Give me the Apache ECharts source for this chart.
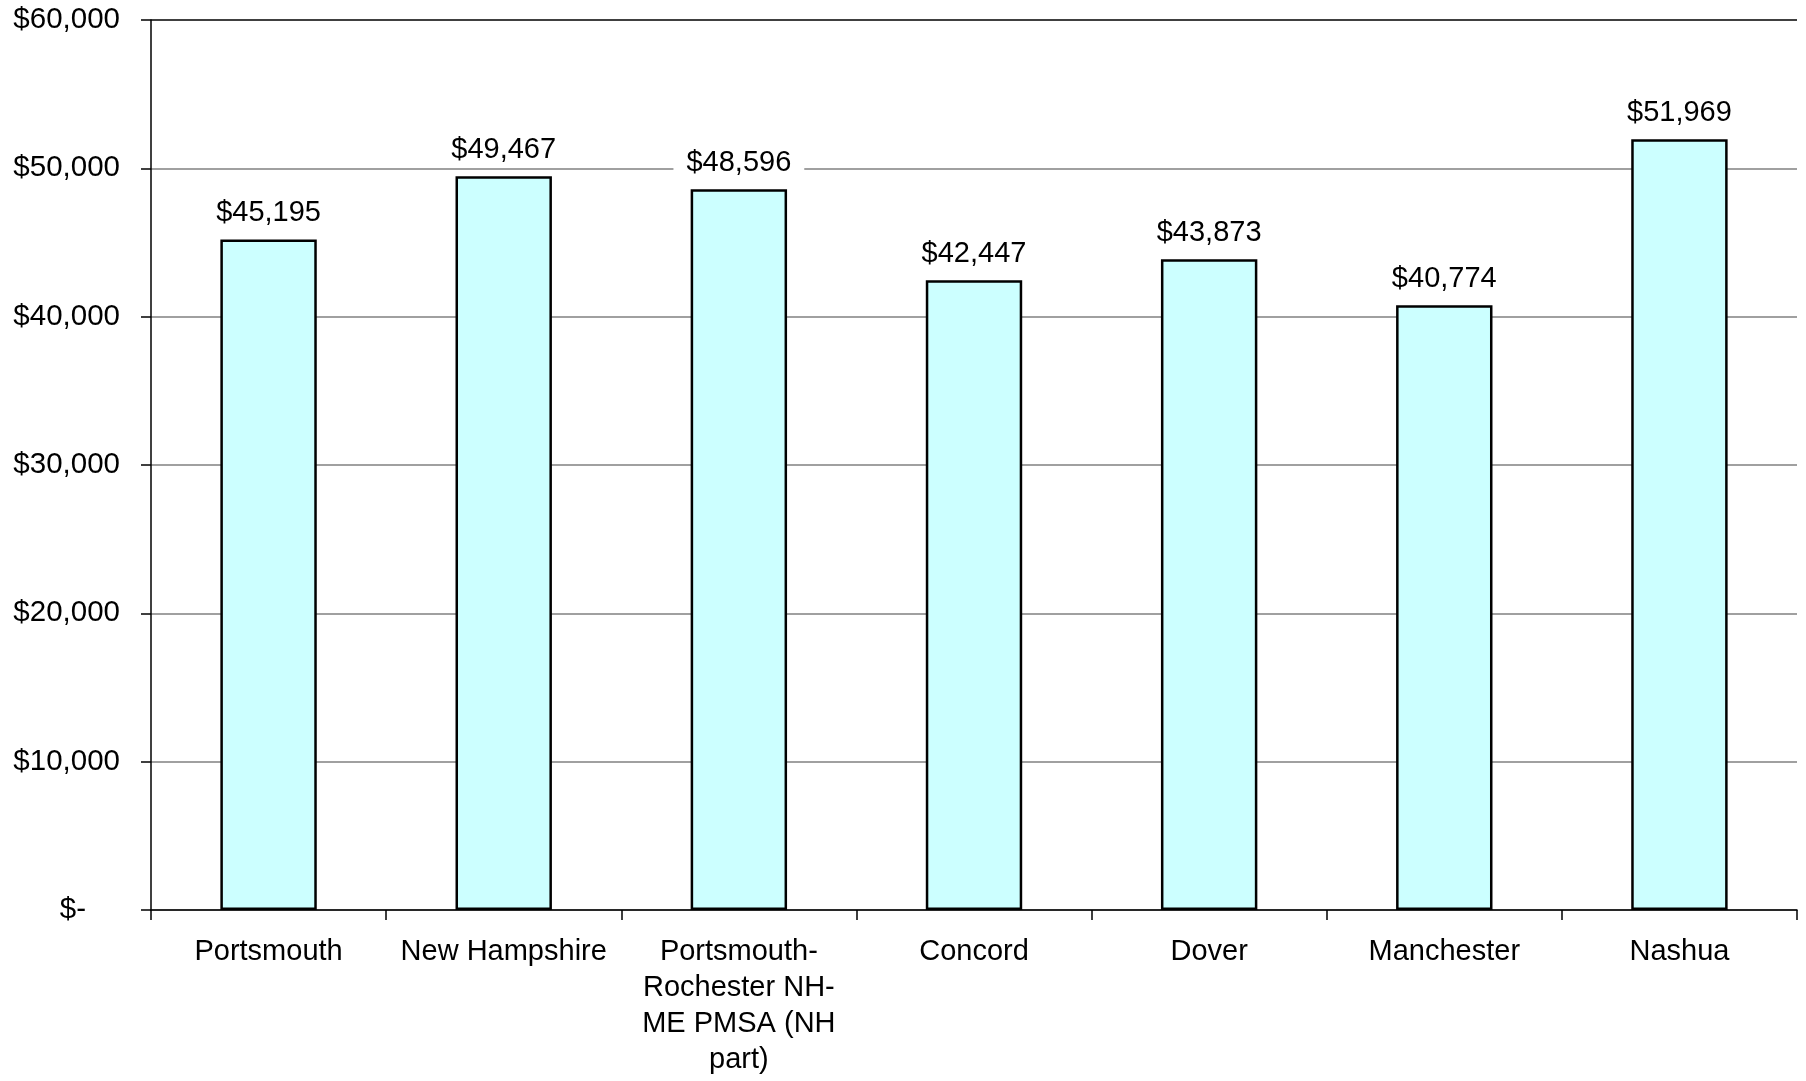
<!DOCTYPE html>
<html>
<head>
<meta charset="utf-8">
<script src="https://cdn.jsdelivr.net/npm/echarts@6/dist/echarts.min.js"></script>
<style>
html, body { margin: 0; padding: 0; background: #fff; }
#chart { width: 1806px; height: 1081px; }
</style>
</head>
<body>
<div id="chart"></div>
<script>
// data
const categories = ['Portsmouth', 'New Hampshire', 'Portsmouth-\nRochester NH-\nME PMSA (NH\npart)', 'Concord', 'Dover', 'Manchester', 'Nashua'];
const incomes = [45195, 49467, 48596, 42447, 43873, 40774, 51969];
const yTicks = [0, 10000, 20000, 30000, 40000, 50000, 60000];

const font = 'Liberation Sans, Arial, sans-serif';

function money(v) {
	return '$' + v.toLocaleString('en-US');
}

const chart = echarts.init(document.getElementById('chart'));
chart.setOption({
	backgroundColor: '#fff',
	animation: false,
	grid: { left: 151, right: 9, top: 20, bottom: 171 },
	xAxis: {
		type: 'category',
		data: categories,
		axisLine: { lineStyle: { color: '#000', width: 1.5 } },
		axisTick: { show: true, length: 10, lineStyle: { color: '#000', width: 1.5 } },
		axisLabel: {
			color: '#000', fontFamily: font, fontSize: 29, lineHeight: 36,
			margin: 24, interval: 0
		}
	},
	yAxis: {
		type: 'value',
		min: yTicks[0],
		max: yTicks[yTicks.length - 1],
		interval: 10000,
		axisLine: { show: true, lineStyle: { color: '#000', width: 1.5 } },
		axisTick: { show: true, length: 10, lineStyle: { color: '#000', width: 1.5 } },
		splitLine: {
			lineStyle: {
				color: ['#808080', '#808080', '#808080', '#808080', '#808080', '#808080', '#000'],
				width: 1.5
			}
		},
		axisLabel: {
			color: '#000', fontFamily: font, fontSize: 29.5, margin: 31,
			formatter: function (v) {
				return v === 0 ? '{z|$-}' : money(v);
			},
			rich: {
				z: { color: '#000', fontFamily: font, fontSize: 29.5, padding: [0, 34, 0, 0] }
			}
		}
	},
	series: [{
		type: 'bar',
		data: incomes,
		barCategoryGap: '59%',
		itemStyle: { color: '#ccffff', borderColor: '#000', borderWidth: 2.5 },
		label: {
			show: true,
			position: 'top',
			distance: 10,
			color: '#000',
			fontFamily: font,
			fontSize: 29,
			backgroundColor: '#fff',
			padding: [2, 13],
			formatter: function (p) { return money(p.value); }
		}
	}]
});
</script>
</body>
</html>
